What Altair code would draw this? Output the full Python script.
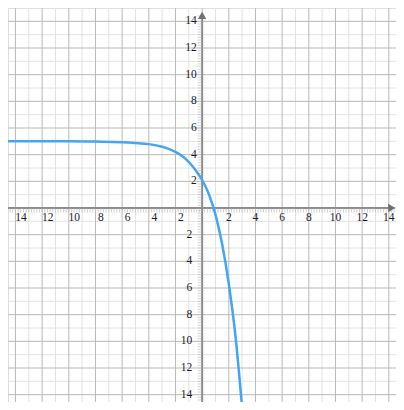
import altair as alt
import numpy as np
import pandas as pd

# curve points
curve_x = [-15, -12, -10, -8, -6, -5, -4, -3, -2.5, -2, -1.5, -1, -0.5, 0, 0.5, 1, 1.5, 2, 2.5, 3]
curve_y = [5.0, 5.0, 5.0, 4.98, 4.94, 4.88, 4.79, 4.59, 4.43, 4.2, 3.9, 3.45, 2.85, 2.1, 1.05, -0.5, -2.7, -5.7, -9.6, -15]

# grid and tick labels
major_vals = [-14, -12, -10, -8, -6, -4, -2, 0, 2, 4, 6, 8, 10, 12, 14]
minor_vals = [-13, -11, -9, -7, -5, -3, -1, 1, 3, 5, 7, 9, 11, 13]
label_vals = [-14, -12, -10, -8, -6, -4, -2, 2, 4, 6, 8, 10, 12, 14]

XDOM = [-14.56, 14.54]
YDOM = [-14.55, 15]
W, H = 388, 394

xs = alt.Scale(domain=XDOM, nice=False, zero=False)
ys = alt.Scale(domain=YDOM, nice=False, zero=False)

curve_df = pd.DataFrame({"x": curve_x, "y": curve_y})
major_df = pd.DataFrame({"v": major_vals})
minor_df = pd.DataFrame({"v": minor_vals + [15]})
minor_x_df = pd.DataFrame({"v": minor_vals})
neg_df = pd.DataFrame({"v": [v for v in label_vals if v < 0],
                       "t": [str(abs(v)) for v in label_vals if v < 0]})
pos_df = pd.DataFrame({"v": [v for v in label_vals if v > 0],
                       "t": [str(v) for v in label_vals if v > 0]})
mt = [round(v, 2) for v in np.arange(-14.4, 14.41, 0.2) if abs(v) > 1e-6]
mtx_df = pd.DataFrame({"v": mt})
mty_df = pd.DataFrame({"v": mt})


def vgrid(df, color):
    return alt.Chart(df).mark_rule(color=color, strokeWidth=1).encode(
        x=alt.X("v:Q", scale=xs, axis=None))


def hgrid(df, color):
    return alt.Chart(df).mark_rule(color=color, strokeWidth=1).encode(
        y=alt.Y("v:Q", scale=ys, axis=None))


minor_c = "#e2e2e2"
major_c = "#b9b9b9"
layers = [
    vgrid(minor_x_df, minor_c), hgrid(minor_df, minor_c),
    vgrid(major_df, major_c), hgrid(major_df, major_c),
]

axis_c = "#8c8c8c"
zero_df = pd.DataFrame({"z": [0]})
# axis lines
layers.append(alt.Chart(zero_df).mark_rule(color=axis_c, strokeWidth=2).encode(
    y=alt.Y("z:Q", scale=ys, axis=None), x=alt.value(0), x2=alt.value(W - 6)))
layers.append(alt.Chart(zero_df).mark_rule(color=axis_c, strokeWidth=2).encode(
    x=alt.X("z:Q", scale=xs, axis=None), y=alt.value(H), y2=alt.value(8)))

# small ruler ticks
layers.append(alt.Chart(mtx_df).mark_tick(color="#bdbdbd", orient="vertical", size=4,
                                          thickness=1, yOffset=2.5).encode(
    x=alt.X("v:Q", scale=xs, axis=None), y=alt.Y("zz:Q", scale=ys, axis=None)
).transform_calculate(zz="0"))
layers.append(alt.Chart(mty_df).mark_tick(color="#bdbdbd", orient="horizontal", size=4,
                                          thickness=1, xOffset=-2.5).encode(
    y=alt.Y("v:Q", scale=ys, axis=None), x=alt.X("zz:Q", scale=xs, axis=None)
).transform_calculate(zz="0"))

# arrows
arr_df = pd.DataFrame({"x": [14.22, 0], "y": [0, 14.44], "s": ["triangle-right", "triangle-up"]})
layers.append(alt.Chart(arr_df).mark_point(filled=True, color="#707070", opacity=1, size=70).encode(
    x=alt.X("x:Q", scale=xs, axis=None), y=alt.Y("y:Q", scale=ys, axis=None),
    shape=alt.Shape("s:N", scale=None)))

font = "Liberation Serif"
lab_c = "#1a1a2a"
FS = 11.5


def xlab(df, dx):
    return alt.Chart(df).mark_text(font=font, fontSize=FS, baseline="top", dy=4, dx=dx,
                                   color=lab_c).encode(
        x=alt.X("v:Q", scale=xs, axis=None), y=alt.Y("zz:Q", scale=ys, axis=None),
        text="t:N").transform_calculate(zz="0")


def ylab(df, dx):
    return alt.Chart(df).mark_text(font=font, fontSize=FS, baseline="middle", align="right",
                                   dx=dx, color=lab_c).encode(
        y=alt.Y("v:Q", scale=ys, axis=None), x=alt.X("zz:Q", scale=xs, axis=None),
        text="t:N").transform_calculate(zz="0")


layers += [xlab(neg_df, 5.5), xlab(pos_df, 0), ylab(pos_df, -5.5), ylab(neg_df, -10)]

# curve
layers.append(alt.Chart(curve_df).mark_line(color="#42a5f5", strokeWidth=2.5, clip=True,
                                            interpolate="monotone").encode(
    x=alt.X("x:Q", scale=xs, axis=None), y=alt.Y("y:Q", scale=ys, axis=None)))

chart = alt.layer(*layers).properties(
    width=W, height=H, autosize=alt.AutoSizeParams(type="none"), padding=0
).configure_view(stroke=None).configure(background="white")

chart.save("out.html", embed_options={"renderer": "svg", "actions": False})
